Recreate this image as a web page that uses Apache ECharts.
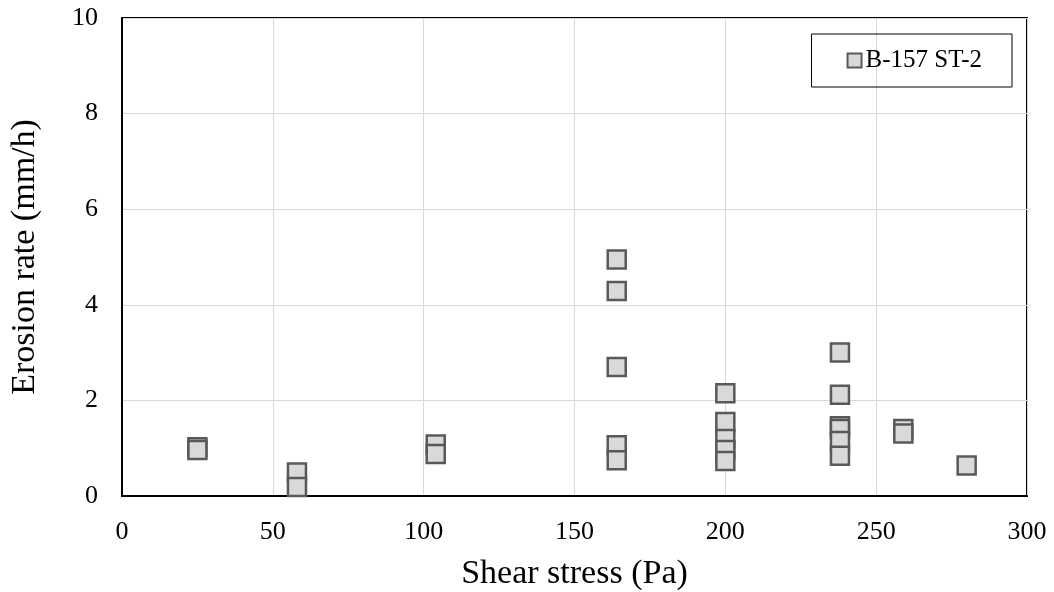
<!DOCTYPE html>
<html>
<head>
<meta charset="utf-8">
<script src="https://cdn.jsdelivr.net/npm/echarts@6/dist/echarts.min.js"></script>
<style>
  html, body { margin: 0; padding: 0; background: #fff; }
  #chart { width: 1054px; height: 592px; }
</style>
</head>
<body>
<div id="chart"></div>
<script>
// shear stress (Pa) and erosion rate (mm/h)
const shearStress = [25, 25, 58, 58, 104, 104, 164, 164, 164, 164, 164,
  200, 200, 200, 200, 200, 238, 238, 238, 238, 238, 238, 259, 259, 280];
const erosionRate = [1.02, 0.96, 0.49, 0.19, 1.08, 0.88, 4.95, 4.29, 2.70, 1.06, 0.75,
  2.15, 1.55, 1.19, 0.96, 0.73, 3.00, 2.12, 1.46, 1.40, 1.15, 0.84, 1.40, 1.31, 0.64];
const seriesName = 'B-157 ST-2';

const serif = '"Liberation Serif", "DejaVu Serif", serif';

const chart = echarts.init(document.getElementById('chart'), null, { renderer: 'canvas' });

chart.setOption({
  animation: false,
  backgroundColor: '#fff',
  grid: {
    left: 122, right: 27, top: 18, bottom: 96,
    outerBoundsMode: 'none',
    show: true, borderColor: '#000', borderWidth: 2
  },
  legend: {
    data: [{ name: seriesName, icon: 'rect' }],
    right: 42, top: 34,
    padding: [14, 30, 14, 35],
    borderColor: '#000', borderWidth: 1,
    itemWidth: 14, itemHeight: 14, itemGap: 0,
    textStyle: { fontFamily: serif, fontSize: 25, color: '#000', padding: [0, 0, 0, -1] }
  },
  xAxis: {
    type: 'value', min: 0, max: 300, interval: 50,
    name: 'Shear stress (Pa)', nameLocation: 'middle', nameGap: 61,
    nameTextStyle: { fontFamily: serif, fontSize: 34, color: '#000' },
    axisLine: { show: true, lineStyle: { color: '#000', width: 2 } },
    axisTick: { show: false },
    axisLabel: { fontFamily: serif, fontSize: 26, color: '#000', margin: 23 },
    splitLine: { show: true, lineStyle: { color: '#d9d9d9', width: 1 } }
  },
  yAxis: {
    type: 'value', min: 0, max: 10, interval: 2,
    name: 'Erosion rate (mm/h)', nameLocation: 'middle', nameGap: 80,
    nameTextStyle: { fontFamily: serif, fontSize: 34, color: '#000' },
    axisLine: { show: true, lineStyle: { color: '#000', width: 2 } },
    axisTick: { show: false },
    axisLabel: { fontFamily: serif, fontSize: 26, color: '#000', margin: 24 },
    splitLine: { show: true, lineStyle: { color: '#d9d9d9', width: 1 } }
  },
  series: [{
    name: seriesName,
    type: 'scatter',
    symbol: 'rect',
    symbolSize: 18,
    data: shearStress.map((x, i) => [x, erosionRate[i]]),
    itemStyle: { color: '#d9d9d9', borderColor: '#595959', borderWidth: 2.5, opacity: 1 }
  }]
});
</script>
</body>
</html>
